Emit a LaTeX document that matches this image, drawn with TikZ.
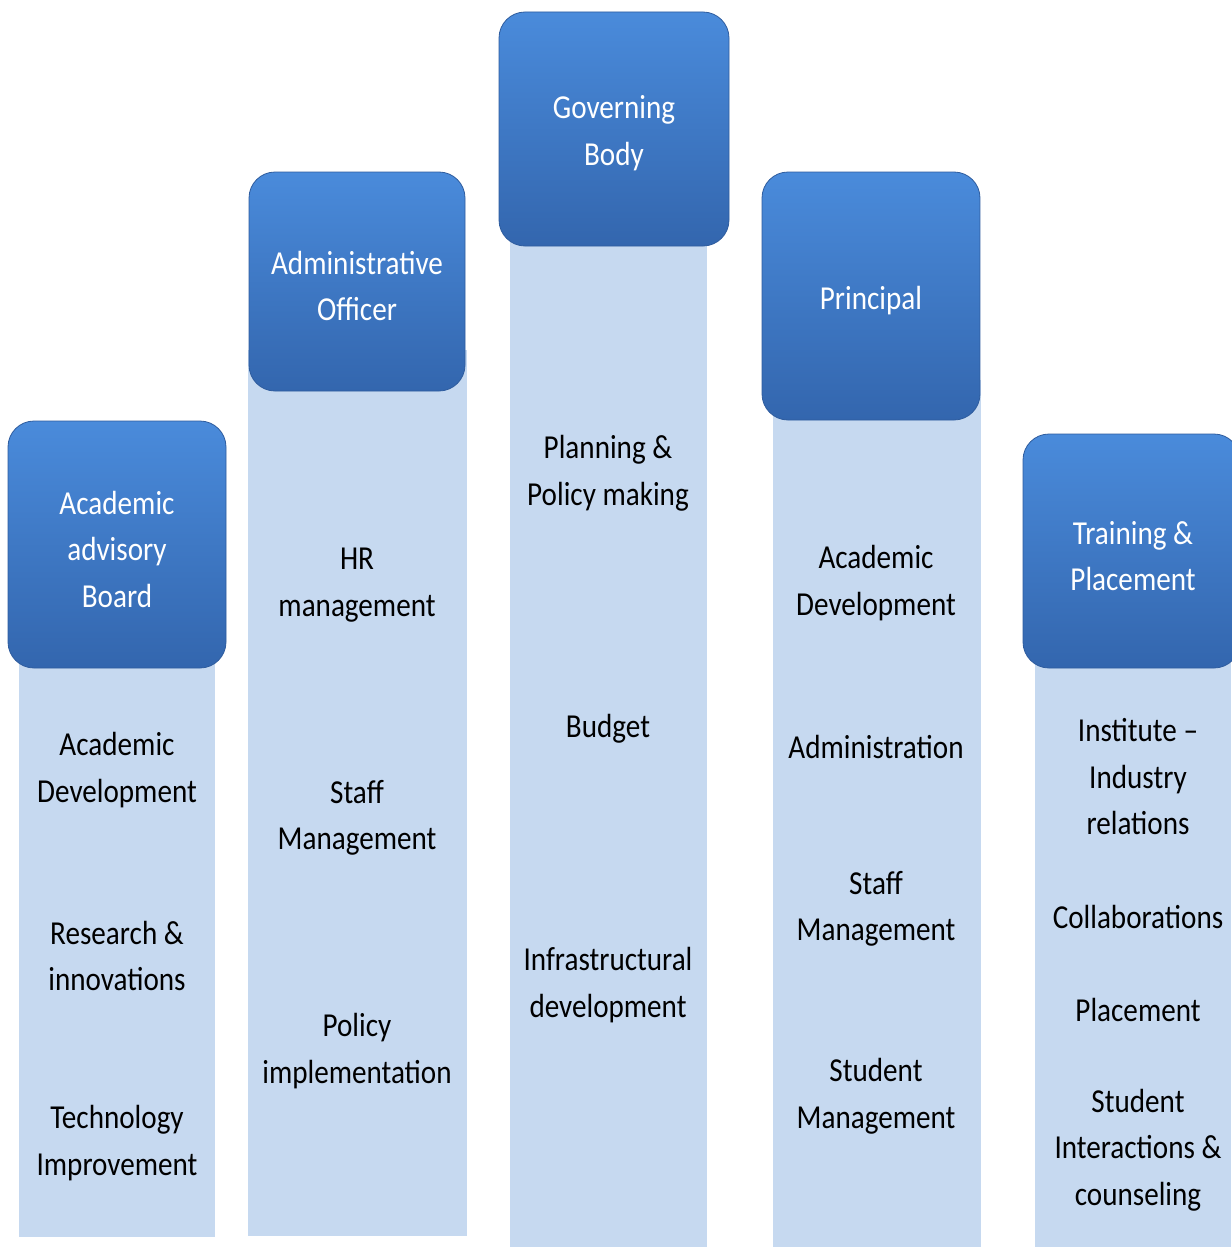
\documentclass[tikz,border=0pt]{standalone}
\usepackage{fontspec}
\setmainfont{Carlito}[FakeStretch=0.87]
\definecolor{colfill}{HTML}{C6D9F0}
\definecolor{boxtop}{HTML}{4A8BDB}
\definecolor{boxbot}{HTML}{3366AE}
\definecolor{boxedge}{HTML}{2E5C9E}
\begin{document}
\begin{tikzpicture}[x=1pt,y=-1pt,
  column/.style={fill=colfill,draw=none},
  head/.style={draw=boxedge,line width=0.8pt,top color=boxtop,bottom color=boxbot,rounded corners=26pt},
  ht/.style={text=white,align=center,font=\fontsize{33.5}{46.5}\selectfont,inner sep=0pt,yshift=-3pt},
  it/.style={text=black,align=center,font=\fontsize{33.5}{46.5}\selectfont,inner sep=0pt,yshift=-3pt}]
\useasboundingbox (0,0) rectangle (1231,1247);
% light columns
\fill[column] (19,600) rectangle (215,1237);
\fill[column] (248,350) rectangle (467,1236);
\fill[column] (510,200) rectangle (707,1247);
\fill[column] (773,380) rectangle (981,1247);
\fill[column] (1035,620) rectangle (1231,1247);
% header boxes
\path[head] (8,421) rectangle (226,668);
\path[head] (249,172) rectangle (465,391);
\path[head] (499,12) rectangle (729,246);
\path[head] (762,172) rectangle (980,420);
\path[head] (1023,434) rectangle (1240,668);
% header texts
\node[ht] (h1) at (117,546) {Academic\\advisory\\Board};
\node[ht] (h2) at (357,283) {Administrative\\Officer};
\node[ht] (h3) at (614,130) {Governing\\Body};
\node[ht] (h4) at (871,298) {Principal};
\node[ht] (h5) at (1133,553) {Training \&\\Placement};
% column 1
\node[it] (a1) at (117,767) {Academic\\Development};
\node[it] (a2) at (117,953) {Research \&\\innovations};
\node[it] (a3) at (117,1140) {Technology\\Improvement};
% column 2
\node[it] (b1) at (357,582) {HR\\management};
\node[it] (b2) at (357,815) {Staff\\Management};
\node[it] (b3) at (357,1048) {Policy\\implementation};
% column 3
\node[it] (c1) at (608,470) {Planning \&\\Policy making};
\node[it] (c2) at (608,726) {Budget};
\node[it] (c3) at (608,982) {Infrastructural\\development};
% column 4
\node[it] (d1) at (876,580) {Academic\\Development};
\node[it] (d2) at (876,744) {Administration};
\node[it] (d3) at (876,906) {Staff\\Management};
\node[it] (d4) at (876,1093) {Student\\Management};
% column 5
\node[it] (e1) at (1138,774) {Institute –\\Industry\\relations};
\node[it] (e2) at (1138,914) {Collaborations};
\node[it] (e3) at (1138,1007) {Placement};
\node[it] (e4) at (1138,1147) {Student\\Interactions \&\\counseling};
\end{tikzpicture}
\end{document}
